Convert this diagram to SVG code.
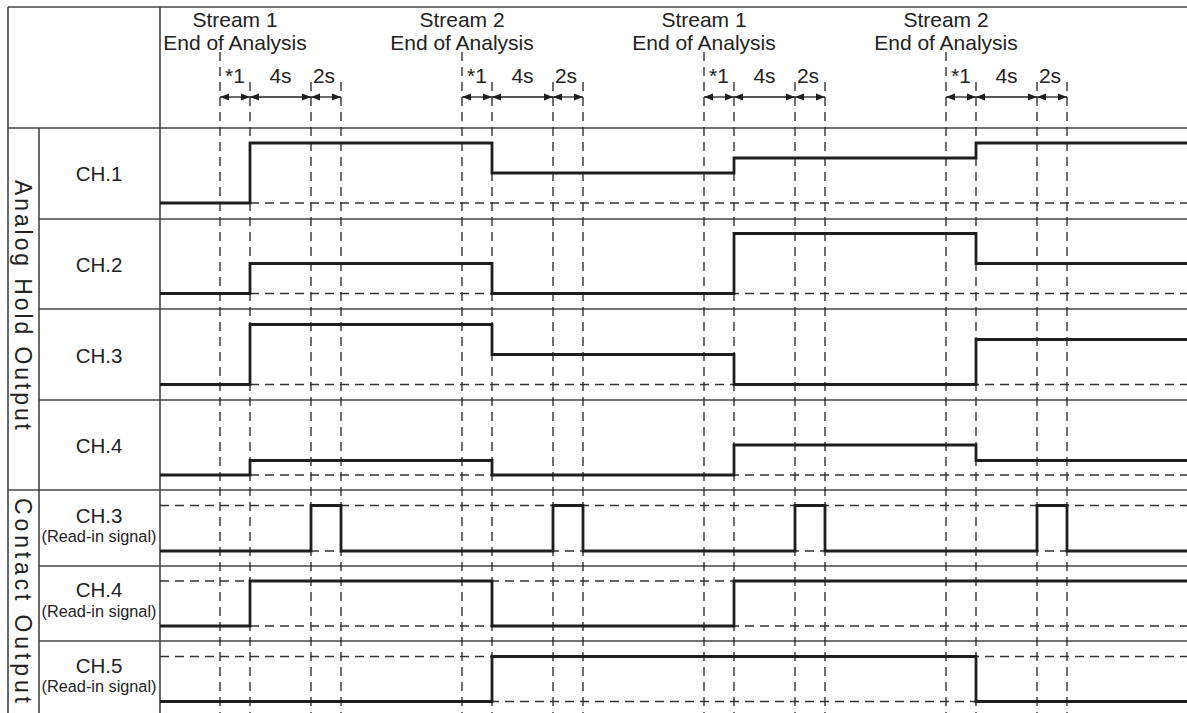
<svg xmlns="http://www.w3.org/2000/svg" width="1187" height="713" viewBox="0 0 1187 713">
<style>
.grid{stroke:#444;stroke-width:1.6;fill:none}
.vd{stroke:#222;stroke-width:1.3;stroke-dasharray:9 6;fill:none}
.hd{stroke:#333;stroke-width:1.3;stroke-dasharray:9 6;fill:none}
.sig{stroke:#1e1e1e;stroke-width:2.8;fill:none;stroke-linejoin:miter}
.arr{stroke:#1e1e1e;stroke-width:1.3;fill:none;marker-start:url(#ah);marker-end:url(#ah)}
text{font-family:"Liberation Sans",Arial,sans-serif;fill:#222}
.hdr{font-size:21px;text-anchor:middle}
.ch{font-size:20.5px;text-anchor:middle}
.ri{font-size:16.3px;text-anchor:middle}
.side{font-size:23px}
</style>
<defs>
<marker id="ah" viewBox="0 0 10 8" refX="10" refY="4" markerWidth="9" markerHeight="7.2" markerUnits="userSpaceOnUse" orient="auto-start-reverse">
<path d="M0,0 L10,4 L0,8 Z" fill="#1e1e1e"/>
</marker>
</defs>
<rect width="1187" height="713" fill="#fff"/>

<g id="frame">
<line class="grid" x1="8" y1="7" x2="1187" y2="7"/>
<line class="grid" x1="8" y1="7" x2="8" y2="713"/>
<line class="grid" x1="160" y1="7" x2="160" y2="713"/>
<line class="grid" x1="8" y1="128" x2="1187" y2="128"/>
<line class="grid" x1="39" y1="128" x2="39" y2="713"/>
<line class="grid" x1="39" y1="219" x2="1187" y2="219"/>
<line class="grid" x1="39" y1="309" x2="1187" y2="309"/>
<line class="grid" x1="39" y1="400" x2="1187" y2="400"/>
<line class="grid" x1="8" y1="490" x2="1187" y2="490"/>
<line class="grid" x1="39" y1="566" x2="1187" y2="566"/>
<line class="grid" x1="39" y1="641" x2="1187" y2="641"/>
</g>

<g id="side-labels">
<text class="side" transform="translate(15,180) rotate(90)" textLength="250" lengthAdjust="spacing">Analog Hold Output</text>
<text class="side" transform="translate(15,498) rotate(90)" textLength="205" lengthAdjust="spacing">Contact Output</text>
</g>

<g id="header">
<text class="hdr" x="235" y="27">Stream 1</text>
<text class="hdr" x="235" y="49.5">End of Analysis</text>
<text class="hdr" x="462" y="27">Stream 2</text>
<text class="hdr" x="462" y="49.5">End of Analysis</text>
<text class="hdr" x="704" y="27">Stream 1</text>
<text class="hdr" x="704" y="49.5">End of Analysis</text>
<text class="hdr" x="946" y="27">Stream 2</text>
<text class="hdr" x="946" y="49.5">End of Analysis</text>
</g>

<g id="timing-labels">
<text class="hdr" x="235" y="83">*1</text><text class="hdr" x="280.5" y="83">4s</text><text class="hdr" x="324" y="83">2s</text>
<text class="hdr" x="477" y="83">*1</text><text class="hdr" x="522.5" y="83">4s</text><text class="hdr" x="566" y="83">2s</text>
<text class="hdr" x="719" y="83">*1</text><text class="hdr" x="764.5" y="83">4s</text><text class="hdr" x="808" y="83">2s</text>
<text class="hdr" x="961" y="83">*1</text><text class="hdr" x="1006.5" y="83">4s</text><text class="hdr" x="1050" y="83">2s</text>
</g>

<g id="connectors">
<g id="vertical-dashes">
<line class="vd" x1="220" y1="52" x2="220" y2="713"/><line class="vd" x1="250" y1="82" x2="250" y2="713"/><line class="vd" x1="311" y1="82" x2="311" y2="713"/><line class="vd" x1="341" y1="82" x2="341" y2="713"/>
<line class="vd" x1="462" y1="52" x2="462" y2="713"/><line class="vd" x1="492" y1="82" x2="492" y2="713"/><line class="vd" x1="553" y1="82" x2="553" y2="713"/><line class="vd" x1="583" y1="82" x2="583" y2="713"/>
<line class="vd" x1="704" y1="52" x2="704" y2="713"/><line class="vd" x1="734" y1="82" x2="734" y2="713"/><line class="vd" x1="795" y1="82" x2="795" y2="713"/><line class="vd" x1="825" y1="82" x2="825" y2="713"/>
<line class="vd" x1="946" y1="52" x2="946" y2="713"/><line class="vd" x1="976" y1="82" x2="976" y2="713"/><line class="vd" x1="1037" y1="82" x2="1037" y2="713"/><line class="vd" x1="1067" y1="82" x2="1067" y2="713"/>
</g>
<g id="interval-arrows">
<line class="arr" x1="220" y1="97" x2="250" y2="97"/><line class="arr" x1="250" y1="97" x2="311" y2="97"/><line class="arr" x1="311" y1="97" x2="341" y2="97"/>
<line class="arr" x1="462" y1="97" x2="492" y2="97"/><line class="arr" x1="492" y1="97" x2="553" y2="97"/><line class="arr" x1="553" y1="97" x2="583" y2="97"/>
<line class="arr" x1="704" y1="97" x2="734" y2="97"/><line class="arr" x1="734" y1="97" x2="795" y2="97"/><line class="arr" x1="795" y1="97" x2="825" y2="97"/>
<line class="arr" x1="946" y1="97" x2="976" y2="97"/><line class="arr" x1="976" y1="97" x2="1037" y2="97"/><line class="arr" x1="1037" y1="97" x2="1067" y2="97"/>
</g>
</g>

<g id="analog-ch1">
<text class="ch" x="99" y="181">CH.1</text>
<line class="hd" x1="160" y1="203" x2="1187" y2="203"/>
<path class="sig" d="M160,203 H250 V143 H492 V173 H734 V158 H976 V143 H1187"/>
</g>
<g id="analog-ch2">
<text class="ch" x="99" y="271.5">CH.2</text>
<line class="hd" x1="160" y1="293.5" x2="1187" y2="293.5"/>
<path class="sig" d="M160,293.5 H250 V263.5 H492 V293.5 H734 V233.5 H976 V263.5 H1187"/>
</g>
<g id="analog-ch3">
<text class="ch" x="99" y="363">CH.3</text>
<line class="hd" x1="160" y1="384.5" x2="1187" y2="384.5"/>
<path class="sig" d="M160,384.5 H250 V324.5 H492 V354.5 H734 V384.5 H976 V339.5 H1187"/>
</g>
<g id="analog-ch4">
<text class="ch" x="99" y="453">CH.4</text>
<line class="hd" x1="160" y1="475" x2="1187" y2="475"/>
<path class="sig" d="M160,475 H250 V460.5 H492 V475 H734 V445 H976 V460.5 H1187"/>
</g>

<g id="contact-ch3">
<text class="ch" x="99" y="522.5">CH.3</text>
<text class="ri" x="99" y="541.5">(Read-in signal)</text>
<line class="hd" x1="160" y1="505.5" x2="1187" y2="505.5"/>
<line class="hd" x1="160" y1="551" x2="1187" y2="551"/>
<path class="sig" d="M160,551 H311 V505.5 H341 V551 H553 V505.5 H583 V551 H795 V505.5 H825 V551 H1037 V505.5 H1067 V551 H1187"/>
</g>
<g id="contact-ch4">
<text class="ch" x="99" y="597.3">CH.4</text>
<text class="ri" x="99" y="617">(Read-in signal)</text>
<line class="hd" x1="160" y1="581" x2="1187" y2="581"/>
<line class="hd" x1="160" y1="626" x2="1187" y2="626"/>
<path class="sig" d="M160,626 H250 V581 H492 V626 H734 V581 H1187"/>
</g>
<g id="contact-ch5">
<text class="ch" x="99" y="672.7">CH.5</text>
<text class="ri" x="99" y="691.7">(Read-in signal)</text>
<line class="hd" x1="160" y1="656.5" x2="1187" y2="656.5"/>
<line class="hd" x1="160" y1="701.5" x2="1187" y2="701.5"/>
<path class="sig" d="M160,701.5 H492 V656.5 H976 V701.5 H1187"/>
</g>
</svg>
